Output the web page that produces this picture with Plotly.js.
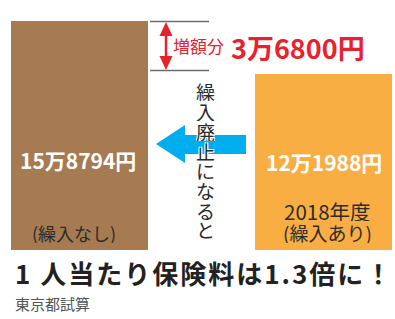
<!DOCTYPE html>
<html>
<head>
<meta charset="utf-8">
<script src="https://cdn.plot.ly/plotly-3.0.1.min.js"></script>
<style>
html,body{margin:0;padding:0;background:#fff;}
#chart{width:395px;height:319px;}
#chart g.annotation[data-index="0"] text.annotation-text{letter-spacing:2px;}
</style>
</head>
<body>
<div id="chart"></div>
<script>
// ---- data ----
const categories = ['繰入なし', '繰入あり'];
const premiums = [158794, 121988];
const valueLabels = ['15万8794円', '12万1988円'];
const caseLabels = [['(繰入なし)'], ['2018年度', '(繰入あり)']];
const increaseCaption = '増額分';
const increaseLabel = '3万6800円';
const arrowCaption = '繰入廃止になると';
const titleText = '1 人当たり保険料は1.3倍に！';
const sourceText = '東京都試算';

// ---- layout helpers ----
const W = 395, H = 319;
const FONT = '"Noto Sans CJK JP", "Noto Sans", sans-serif';
const baseY = 250, topY = 21;                 // pixel rows of 0 and of the tallest bar
const k = premiums[0] / (baseY - topY);       // yen per pixel
const X = px => px / W;
const Y = py => 1 - py / H;
const pitch = 244, c0 = 79.5;                 // category spacing / first centre (px)

const shapes = [];
const annotations = [];

// title & source (title first: index 0 gets letter-spacing)
annotations.push({xref: 'paper', yref: 'paper', x: X(13), y: Y(272), text: '<b>' + titleText + '</b>', showarrow: false,
  xanchor: 'left', yanchor: 'middle', align: 'left', font: {family: FONT, size: 26, color: '#222'}});
annotations.push({xref: 'paper', yref: 'paper', x: X(13), y: Y(303), text: sourceText, showarrow: false,
  xanchor: 'left', yanchor: 'middle', font: {family: FONT, size: 15, color: '#555'}});

// bracket lines
[21.5, 70.5].forEach(py => shapes.push({
  type: 'line', xref: 'paper', yref: 'paper', x0: X(150), x1: X(209), y0: Y(py), y1: Y(py),
  line: {color: '#6d6d6d', width: 1.5}
}));
// red double arrow
const red = '#e8212b';
shapes.push({type: 'line', xref: 'paper', yref: 'paper', x0: X(166), x1: X(166), y0: Y(32), y1: Y(60),
  line: {color: red, width: 2.5}});
shapes.push({type: 'path', xref: 'paper', yref: 'paper', fillcolor: red, line: {width: 0},
  path: `M${X(166)},${Y(22)} L${X(172.5)},${Y(36)} L${X(159.5)},${Y(36)} Z`});
shapes.push({type: 'path', xref: 'paper', yref: 'paper', fillcolor: red, line: {width: 0},
  path: `M${X(166)},${Y(70)} L${X(172.5)},${Y(56)} L${X(159.5)},${Y(56)} Z`});
// blue arrow
const bp = [[156,144],[185,125],[185,135],[246,135],[246,154],[185,154],[185,163]];
shapes.push({type: 'path', xref: 'paper', yref: 'paper', fillcolor: '#00aeef', line: {width: 0},
  path: 'M' + bp.map(p => X(p[0]) + ',' + Y(p[1])).join(' L') + ' Z'});

// red captions
annotations.push({xref: 'paper', yref: 'paper', x: X(198), y: Y(46), text: increaseCaption, showarrow: false,
  xanchor: 'center', yanchor: 'middle', font: {family: FONT, size: 17, color: red}});
annotations.push({xref: 'paper', yref: 'paper', x: X(298), y: Y(47), text: '<b>' + increaseLabel + '</b>', showarrow: false,
  xanchor: 'center', yanchor: 'middle', font: {family: FONT, size: 27, color: red}});

// vertical caption
Array.from(arrowCaption).forEach((ch, i) => annotations.push({
  xref: 'paper', yref: 'paper', x: X(205), y: Y(92 + i * 19.7), text: ch, showarrow: false,
  xanchor: 'center', yanchor: 'middle', height: 19,
  font: {family: FONT, size: 19, color: '#2b2b2b', shadow: '1px 1px 0 #fff, -1px -1px 0 #fff, 1px -1px 0 #fff, -1px 1px 0 #fff'}
}));

// bar labels
const valueCentres = [[78, 160], [324, 162]];
const caseCentres = [[[73.5, 232]], [[327, 210], [327, 232]]];
const caseSizes = [[18], [20.5, 19]];
categories.forEach((c, i) => {
  annotations.push({xref: 'x', yref: 'paper', x: i, xshift: valueCentres[i][0] - (c0 + i * pitch),
    y: Y(valueCentres[i][1]), text: '<b>' + valueLabels[i] + '</b>', showarrow: false, xanchor: 'center', yanchor: 'middle',
    font: {family: FONT, size: 21, color: '#ffffff'}});
  caseLabels[i].forEach((line, j) => annotations.push({xref: 'x', yref: 'paper', x: i,
    xshift: caseCentres[i][j][0] - (c0 + i * pitch), y: Y(caseCentres[i][j][1]), height: 21,
    text: line, showarrow: false, xanchor: 'center', yanchor: 'middle',
    font: {family: FONT, size: caseSizes[i][j], color: '#2b2b2b'}}));
});

const trace = {
  type: 'bar', x: categories, y: premiums, width: 137 / pitch,
  marker: {color: ['#a67b51', '#f9ae43'], line: {width: 0}},
  hoverinfo: 'none', textinfo: 'none'
};

const layout = {
  width: W, height: H, margin: {l: 0, r: 0, t: 0, b: 0},
  paper_bgcolor: '#fff', plot_bgcolor: '#fff', showlegend: false,
  xaxis: {type: 'category', range: [-c0 / pitch, 1 + (W - (c0 + pitch)) / pitch], visible: false, fixedrange: true},
  yaxis: {range: [-(H - baseY) * k, baseY * k], visible: false, showgrid: false, zeroline: false, fixedrange: true},
  shapes, annotations
};

Plotly.newPlot('chart', [trace], layout, {staticPlot: true, displayModeBar: false});
</script>
</body>
</html>
